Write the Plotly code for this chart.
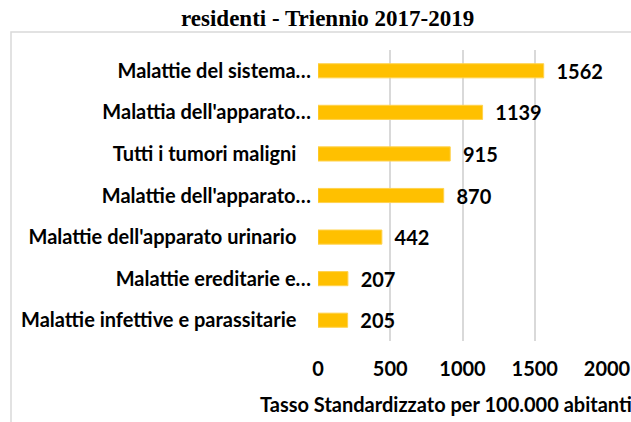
import plotly.graph_objects as go

categories = [
    "Malattie del sistema…",
    "Malattia dell'apparato…",
    "Tutti i tumori maligni",
    "Malattie dell'apparato…",
    "Malattie dell'apparato urinario",
    "Malattie ereditarie e…",
    "Malattie infettive e parassitarie",
]
truncated = [True, True, False, True, False, True, False]
values = [1562, 1139, 915, 870, 442, 207, 205]
x_ticks = [0, 500, 1000, 1500, 2000]
title_text = "residenti - Triennio 2017-2019"
axis_title = "Tasso Standardizzato per 100.000 abitanti"

W, H = 631, 422
L, R, T, B = 318, 24, 50, 81
pw, ph = W - L - R, H - T - B

def px_x(p):
    return (p - L) / pw

def px_y(p):
    return (H - B - p) / ph

labels = [c if t else c + "\u00a0" * 3 for c, t in zip(categories, truncated)]
ypos = list(range(len(categories)))
font = "Lato, 'Open Sans', sans-serif"
FS = 20

fig = go.Figure(go.Bar(
    x=values, y=ypos, orientation="h",
    marker=dict(color="#FFC000", line=dict(color="#FFD24D", width=1)),
    width=0.34,
    text=["\u00a0\u00a0" + str(v) for v in values],
    textposition="outside", cliponaxis=False, constraintext="none",
    textfont=dict(family=font, size=FS, color="#000000", weight="bold"),
    hoverinfo="skip",
))

fig.update_layout(
    width=W, height=H,
    margin=dict(l=L, r=R, t=T, b=B, autoexpand=False),
    paper_bgcolor="white", plot_bgcolor="white",
    showlegend=False,
    font=dict(family=font, size=FS, color="#000000"),
    annotations=[
        dict(text="<b>" + title_text + "</b>", xref="paper", yref="paper",
             x=px_x(327), y=px_y(19), xanchor="center", yanchor="middle",
             showarrow=False,
             font=dict(family="'Liberation Serif', 'Times New Roman', serif", size=23, color="#000000")),
        dict(text="<b>" + axis_title + "</b>", xref="paper", yref="paper",
             x=px_x(258), y=px_y(404), xanchor="left", yanchor="middle",
             showarrow=False,
             font=dict(family=font, size=FS, color="#000000")),
    ],
    shapes=[
        dict(type="rect", xref="paper", yref="paper",
             x0=px_x(11), x1=px_x(700), y0=px_y(32), y1=px_y(500),
             line=dict(color="#D9D9D9", width=1.5), layer="below"),
    ],
)

fig.update_xaxes(
    range=[0, 2000], tickvals=x_ticks, ticktext=[str(v) for v in x_ticks],
    showgrid=True, gridcolor="#D9D9D9", gridwidth=1.5,
    zeroline=False, showline=False, ticks="", automargin=False,
    tickfont=dict(family=font, size=FS, color="#000000", weight="bold"),
    ticklabelstandoff=14,
)
fig.update_yaxes(
    range=[len(categories) - 0.5, -0.5],
    tickvals=ypos, ticktext=labels, automargin=False,
    showgrid=False, zeroline=False, showline=False, ticks="",
    tickfont=dict(family=font, size=FS, color="#000000", weight="bold"),
    ticklabelstandoff=6,
)

fig.write_html("out.html", config={"displayModeBar": False},
               post_script="document.body.style.margin='0';document.body.style.overflow='hidden';")
